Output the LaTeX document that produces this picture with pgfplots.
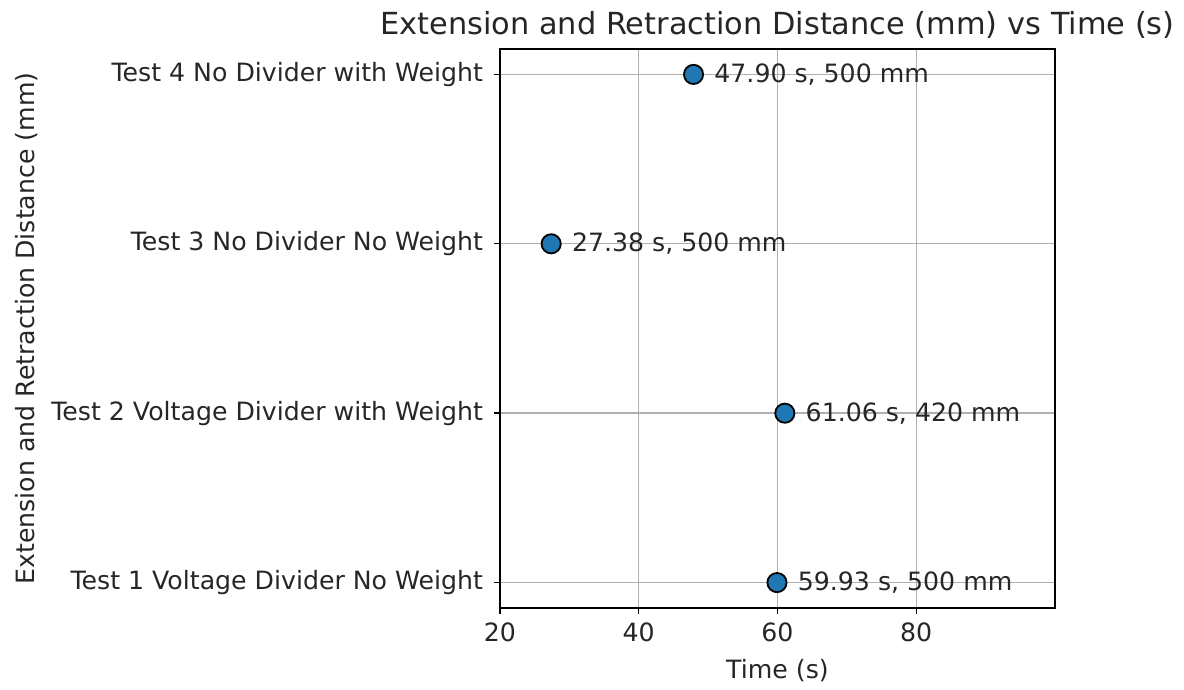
\documentclass[border=0pt]{standalone}
\usepackage{fontspec}
\setmainfont{DejaVu Sans}
\usepackage{pgfplots}
\pgfplotsset{compat=1.18}
\definecolor{mplblue}{HTML}{1F77B4}
\definecolor{gridgray}{HTML}{B0B0B0}
\begin{document}
\fontsize{12.6pt}{14pt}\selectfont
\begin{tikzpicture}
\useasboundingbox (-250pt,-41pt) rectangle (342pt,304pt);
\begin{axis}[
  at={(0,0)}, anchor=south west,
  scale only axis,
  width=277.5pt, height=279.5pt,
  xmin=20, xmax=100,
  ymin=-0.15, ymax=3.15,
  xtick={20,40,60,80},
  ytick={0,1,2,3},
  yticklabels={Test 1 Voltage Divider No Weight,Test 2 Voltage Divider with Weight,Test 3 No Divider No Weight,Test 4 No Divider with Weight},
  /pgf/number format/assume math mode=true,
  ticklabel style={font=\fontsize{12.6pt}{14pt}\selectfont, text=black!85},
  yticklabel style={xshift=-1pt},
  label style={font=\fontsize{12.6pt}{14pt}\selectfont, text=black!85},
  title style={font=\fontsize{15.2pt}{17pt}\selectfont, text=black!85, yshift=-5pt},
  title={Extension and Retraction Distance (mm) vs Time (s)},
  xlabel={Time (s)},
  ylabel={Extension and Retraction Distance (mm)},
  ylabel style={yshift=-2pt},
  grid=major,
  major grid style={gridgray, line width=0.7pt},
  axis line style={black, line width=0.7pt},
  tick style={black, line width=0.7pt},
  tick align=outside,
  major tick length=3.1pt,
  xtick pos=bottom, ytick pos=left,
  clip=false,
]
\addplot[only marks, mark=*, mark size=4.8pt,
  mark options={fill=mplblue, draw=black, line width=0.9pt},
  point meta=explicit symbolic,
  nodes near coords,
  nodes near coords style={anchor=west, xshift=10pt, inner sep=0pt, text=black!85, font=\fontsize{12.6pt}{14pt}\selectfont},
] table[meta=lab, col sep=comma] {
x,y,lab
59.93,0,{59.93 s, 500 mm}
61.06,1,{61.06 s, 420 mm}
27.38,2,{27.38 s, 500 mm}
47.90,3,{47.90 s, 500 mm}
};
\end{axis}
\end{tikzpicture}
\end{document}
